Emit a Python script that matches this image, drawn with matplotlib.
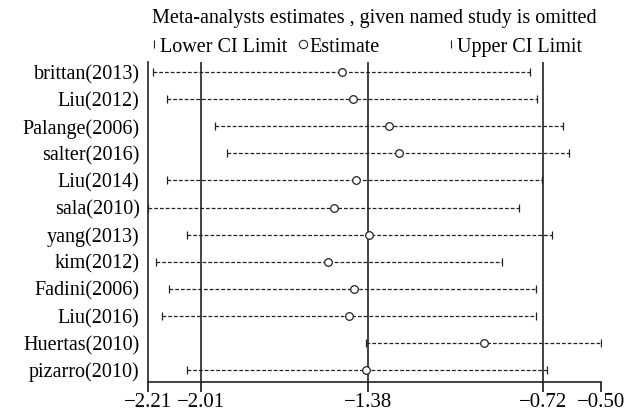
import matplotlib.pyplot as plt
from matplotlib.lines import Line2D

# Omitted study and the pooled estimate with CI when that study is left out
studies = ["brittan(2013)", "Liu(2012)", "Palange(2006)", "salter(2016)",
           "Liu(2014)", "sala(2010)", "yang(2013)", "kim(2012)",
           "Fadini(2006)", "Liu(2016)", "Huertas(2010)", "pizarro(2010)"]
lower = [-2.19, -2.14, -1.956, -1.91, -2.137, -2.21, -2.062, -2.18,
         -2.13, -2.156, -1.387, -2.062]
estimate = [-1.479, -1.438, -1.302, -1.264, -1.426, -1.506, -1.375, -1.532,
            -1.432, -1.453, -0.94, -1.387]
upper = [-0.768, -0.740, -0.642, -0.619, -0.721, -0.809, -0.685, -0.872,
         -0.747, -0.747, -0.50, -0.703]

ticks = [-2.21, -2.01, -1.38, -0.72, -0.50]
ref_lines = [-2.01, -1.38, -0.72]

plt.rcParams['font.family'] = ['Liberation Serif', 'DejaVu Serif']

fig = plt.figure(figsize=(6.24, 4.12), dpi=100)
ax = fig.add_axes([148 / 624, 1 - 382 / 412, 453 / 624, 320 / 412])

ypos = list(range(len(studies), 0, -1))

for x in ref_lines:
    ax.axvline(x, color="#222222", lw=1.2)

ax.hlines(ypos, lower, upper, colors="#222222", linestyles=(0, (3, 1.6)), lw=0.9)
ax.plot(lower, ypos, "|", color="#222222", ms=6, mew=0.9)
ax.plot(upper, ypos, "|", color="#222222", ms=6, mew=0.9)
ax.plot(estimate, ypos, "o", mfc="white", mec="#222222", ms=5.5, mew=0.9)

ax.set_xlim(-2.21, -0.50)
ax.set_ylim(0.56, 12.37)
ax.set_yticks(ypos)
ax.set_yticklabels(studies, fontsize=14.5)
ax.tick_params(axis="y", length=0, pad=6)
ax.set_xticks(ticks)
ax.set_xticklabels(["\u22122.21", "\u22122.01", "\u22121.38", "\u22120.72", "\u22120.50"],
                   fontsize=15)
ax.tick_params(axis="x", direction="out", length=7, width=1.1, pad=1)
for s in ["top", "right"]:
    ax.spines[s].set_visible(False)
for s in ["left", "bottom"]:
    ax.spines[s].set_linewidth(1.2)
    ax.spines[s].set_color("#222222")

fig.text(374 / 624, 1 - 18 / 412, "Meta-analysts estimates , given named study is omitted",
         ha="center", va="center", fontsize=14.5)

handles = [Line2D([], [], ls="none", marker="|", color="#222222", ms=6, mew=0.8),
           Line2D([], [], ls="none", marker="o", mfc="white", mec="#222222", ms=6, mew=0.8)]
fig.legend(handles, ["Lower CI Limit", "Estimate"], ncol=2, frameon=False,
           loc="center left", bbox_to_anchor=(150 / 624, 1 - 47 / 412),
           fontsize=14.5, handlelength=0.4, handletextpad=0.1, columnspacing=0.6,
           borderaxespad=0, borderpad=0)
fig.legend(handles[:1], ["Upper CI Limit"], frameon=False,
           loc="center left", bbox_to_anchor=(447 / 624, 1 - 47 / 412),
           fontsize=14.5, handlelength=0.4, handletextpad=0.1,
           borderaxespad=0, borderpad=0)

fig.savefig("out.png", dpi=100)
